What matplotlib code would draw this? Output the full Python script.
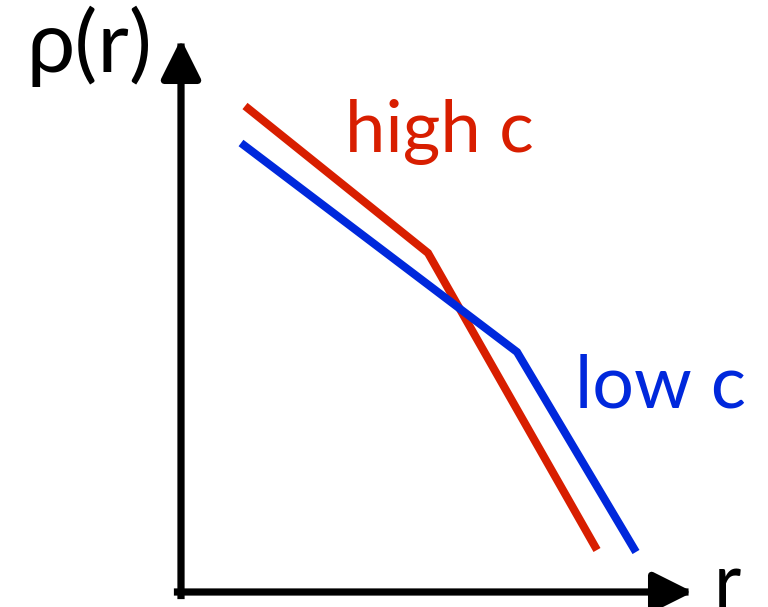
import matplotlib.pyplot as plt

# density profiles, broken power laws (r, rho in plot units)
r_high = [0.64, 2.47, 4.16]
rho_high = [4.86, 3.39, 0.42]
r_low = [0.60, 3.36, 4.55]
rho_low = [4.49, 2.40, 0.40]

red = '#d81e00'
blue = '#0028dc'

plt.rcParams['font.family'] = ['Lato', 'DejaVu Sans']

fig = plt.figure(figsize=(7.68, 6.07), dpi=100)
ax = fig.add_axes([0, 0, 1, 1])
ax.set_xlim(-1.81, 5.87)
ax.set_ylim(-0.15, 5.92)
ax.axis('off')

# axes with arrow heads
arrow = dict(arrowstyle='-|>,head_length=2.4,head_width=1.2', lw=5.2,
             color='black', shrinkA=0, shrinkB=0, capstyle='projecting')
ax.annotate('', xy=(5.12, 0), xytext=(-0.035, 0), arrowprops=arrow)
ax.annotate('', xy=(0, 5.53), xytext=(0, -0.035), arrowprops=arrow)

ax.plot(r_high, rho_high, color=red, lw=5.8, solid_capstyle='butt', solid_joinstyle='miter')
ax.plot(r_low, rho_low, color=blue, lw=5.8, solid_capstyle='butt', solid_joinstyle='miter')

ax.text(1.64, 4.40, 'high c', color=red, fontsize=52, ha='left', va='baseline')
ax.text(3.94, 1.85, 'low c', color=blue, fontsize=53, ha='left', va='baseline')
ax.text(-1.55, 5.20, 'ρ(r)', color='black', fontsize=62, ha='left', va='baseline')
ax.text(5.33, -0.15, 'r', color='black', fontsize=54, ha='left', va='baseline')

fig.savefig('out.png', dpi=100)
